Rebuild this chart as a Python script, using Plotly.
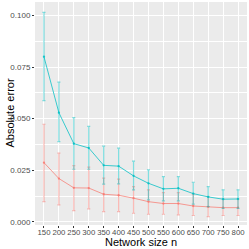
import plotly.graph_objects as go

sizes = [150, 200, 250, 300, 350, 400, 450, 500, 550, 600, 650, 700, 750, 800]

cyan_mean = [0.0800, 0.0529, 0.0379, 0.0358, 0.0274, 0.0270, 0.0223, 0.0187, 0.0160, 0.0163, 0.0137, 0.0121, 0.0110, 0.0111]
cyan_low = [0.0587, 0.0389, 0.0255, 0.0255, 0.0183, 0.0184, 0.0155, 0.0107, 0.0102, 0.0102, 0.0086, 0.0074, 0.0066, 0.0066]
cyan_high = [0.1015, 0.0677, 0.0505, 0.0463, 0.0367, 0.0357, 0.0294, 0.0252, 0.0219, 0.0219, 0.0192, 0.0171, 0.0155, 0.0155]

red_mean = [0.0287, 0.0210, 0.0165, 0.0164, 0.0134, 0.0129, 0.0115, 0.0098, 0.0089, 0.0089, 0.0077, 0.0073, 0.0069, 0.0069]
red_low = [0.0098, 0.0082, 0.0055, 0.0063, 0.0050, 0.0050, 0.0042, 0.0037, 0.0037, 0.0034, 0.0031, 0.0026, 0.0031, 0.0031]
red_high = [0.0473, 0.0333, 0.0273, 0.0265, 0.0212, 0.0207, 0.0171, 0.0155, 0.0142, 0.0142, 0.0134, 0.0123, 0.0111, 0.0111]

y_ticks = [0.000, 0.025, 0.050, 0.075, 0.100]
y_tick_labels = ["0.000", "0.025", "0.050", "0.075", "0.100"]

x_title = "Network size n"
y_title = "Absolute error"

fig = go.Figure()

def add_series(mean, low, high, color_line, color_alpha):
    fig.add_trace(go.Scatter(
        x=sizes, y=mean, mode="lines+markers",
        line=dict(color=color_line, width=0.9),
        marker=dict(color=color_line, size=2.3),
        error_y=dict(
            type="data", symmetric=False,
            array=[h - m for h, m in zip(high, mean)],
            arrayminus=[m - l for m, l in zip(mean, low)],
            color=color_alpha, thickness=1.2, width=1.5,
        ),
        showlegend=False, hoverinfo="skip",
    ))

add_series(red_mean, red_low, red_high, "rgba(248,118,109,0.8)", "rgba(248,118,109,0.5)")
add_series(cyan_mean, cyan_low, cyan_high, "rgba(0,191,196,0.85)", "rgba(0,191,196,0.5)")

font_fam = "Liberation Sans, Arial, sans-serif"

fig.update_layout(
    width=249, height=249,
    margin=dict(l=35, r=2, t=2, b=24),
    paper_bgcolor="white",
    plot_bgcolor="#EBEBEB",
    font=dict(family=font_fam, size=9, color="#4D4D4D"),
    xaxis=dict(
        range=[120, 830], tickvals=sizes, ticktext=[str(s) for s in sizes],
        tickangle=0, ticklabelstandoff=-2,
        showgrid=True, gridcolor="white", gridwidth=1,
        zeroline=False, ticks="outside", ticklen=2, tickcolor="#333333",
        tickfont=dict(size=7.8, color="#4D4D4D"),
        fixedrange=True, automargin=False,
    ),
    yaxis=dict(
        range=[-0.0015, 0.1065], tickvals=y_ticks, ticktext=y_tick_labels,
        showgrid=True, gridcolor="white", gridwidth=1,
        minor=dict(dtick=0.0125, tick0=0, showgrid=True, gridcolor="white", gridwidth=0.5),
        zeroline=False, ticks="outside", ticklen=2, tickcolor="#333333",
        tickfont=dict(size=8, color="#4D4D4D"),
        fixedrange=True, automargin=False,
    ),
    annotations=[
        dict(text=x_title, xref="paper", yref="paper", x=0.5, y=-0.077,
             xanchor="center", yanchor="middle", showarrow=False,
             font=dict(size=11, color="black", family=font_fam)),
        dict(text=y_title, xref="paper", yref="paper", x=-0.1226, y=0.5,
             xanchor="center", yanchor="middle", showarrow=False, textangle=-90,
             font=dict(size=11, color="black", family=font_fam)),
    ],
)

fig.write_html("out.html", config=dict(displayModeBar=False),
               post_script="document.body.style.margin='0';document.body.style.overflow='hidden';")
